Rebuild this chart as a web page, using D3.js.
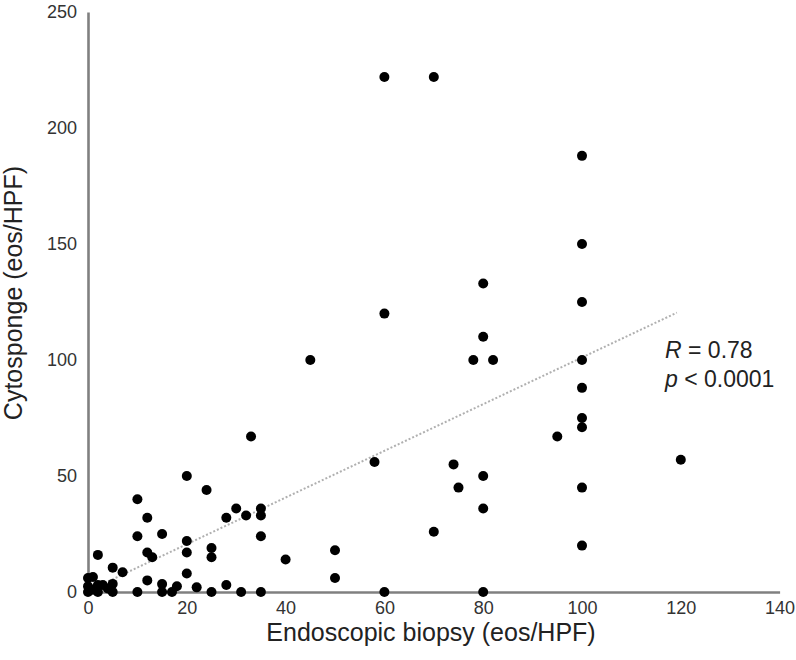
<!DOCTYPE html>
<html><head><meta charset="utf-8">
<script src="https://cdn.jsdelivr.net/npm/d3@7"></script>
<style>body{margin:0;background:#fff}svg{display:block}</style>
</head><body>
<svg id="c" width="796" height="660"></svg>
<script>
const biopsy = [60,70,100,100,100,60,80,80,78,82,45,100,100,100,100,95,120,100,100,33,58,74,75,80,80,70,40,50,50,60,80,
  20,24,10,12,10,15,12,13,20,20,20,25,25,28,30,32,35,35,35,2,5,7,12,28,22,15,15,18,17,10,5,5,25,31,35,
  0,1,0,1,2,3,4,0,2];
const sponge = [222,222,188,150,125,120,133,110,100,100,100,100,88,75,71,67,57,45,20,67,56,55,45,50,36,26,14,18,6,0,0,
  50,44,40,32,24,25,17,15,22,17,8,19,15,32,36,33,36,33,24,16,10.5,8.5,5,3,2,3.4,0,2.5,0,0,0,3.5,0,0,0,
  6,6.5,2.5,1,3,3,1.5,0,0];
const xTicks = [0,20,40,60,80,100,120,140];
const yTicks = [0,50,100,150,200,250];
const trendX = [3.4, 119.2];
const trendY = [3.9, 120.4];

const svg = d3.select("#c");
const x = d3.scaleLinear().domain([0,140]).range([88,779.6]);
const y = d3.scaleLinear().domain([0,250]).range([592,12]);
const font = "Liberation Sans, Arial, sans-serif";

const axisColor = "#808080";
const gx = svg.append("g").attr("transform","translate(0,592)")
  .call(d3.axisBottom(x).tickValues(xTicks).tickSize(0).tickSizeOuter(0).tickPadding(9));
const gy = svg.append("g").attr("transform","translate(88,0)")
  .call(d3.axisLeft(y).tickValues(yTicks).tickSize(0).tickSizeOuter(0).tickPadding(11));
[gx,gy].forEach(g=>{
  g.select(".domain").attr("stroke",axisColor).attr("stroke-width",2.6);
  g.selectAll("text").attr("font-family",font).attr("font-size",18).attr("fill","#333");
});

// trend line
svg.append("line")
  .attr("x1",x(trendX[0])).attr("y1",y(trendY[0]))
  .attr("x2",x(trendX[1])).attr("y2",y(trendY[1]))
  .attr("stroke","#b0b0b0").attr("stroke-width",2).attr("stroke-dasharray","2,2");

// points
svg.append("g").selectAll("circle").data(biopsy.map((b,i)=>[b,sponge[i]])).join("circle")
  .attr("cx",d=>x(d[0])).attr("cy",d=>y(d[1])).attr("r",5).attr("fill","#000");

// stats annotation
const ann = svg.append("g").attr("font-family",font).attr("font-size",23).attr("fill","#222");
const t1 = ann.append("text").attr("x",665).attr("y",358);
t1.append("tspan").attr("font-style","italic").text("R");
t1.append("tspan").text(" = 0.78");
const t2 = ann.append("text").attr("x",665).attr("y",387);
t2.append("tspan").attr("font-style","italic").text("p");
t2.append("tspan").text(" < 0.0001");

// axis titles
svg.append("text").attr("x",431).attr("y",641).attr("text-anchor","middle")
  .attr("font-family",font).attr("font-size",25).attr("fill","#222")
  .text("Endoscopic biopsy (eos/HPF)");
svg.append("text").attr("transform","translate(22,293) rotate(-90)").attr("text-anchor","middle")
  .attr("font-family",font).attr("font-size",25).attr("fill","#222")
  .text("Cytosponge (eos/HPF)");
</script>
</body></html>
